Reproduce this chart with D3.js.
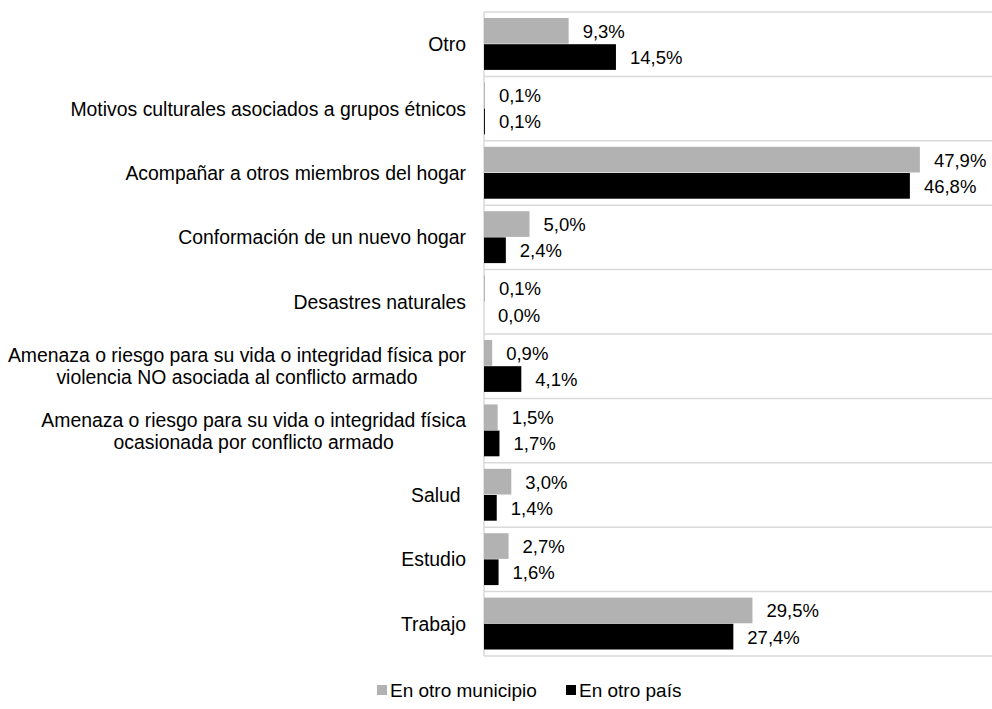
<!DOCTYPE html>
<html>
<head>
<meta charset="utf-8">
<script src="https://cdn.jsdelivr.net/npm/d3@7"></script>
<style>
  body { margin: 0; background: #fff; }
  text { font-family: "Liberation Sans", Arial, sans-serif; fill: #000; }
</style>
</head>
<body>
<div id="chart-area"></div>
<script>
// categories, top to bottom (multi-line labels split with |)
var categories = [
  'Otro',
  'Motivos culturales asociados a grupos étnicos',
  'Acompañar a otros miembros del hogar',
  'Conformación de un nuevo hogar',
  'Desastres naturales',
  'Amenaza o riesgo para su vida o integridad física por|violencia NO asociada al conflicto armado',
  'Amenaza o riesgo para su vida o integridad física|ocasionada por conflicto armado',
  'Salud ',
  'Estudio',
  'Trabajo'
];
var series = ['En otro municipio', 'En otro país'];
var municipio = [9.3, 0.1, 47.9, 5.0, 0.1, 0.9, 1.5, 3.0, 2.7, 29.5];
var pais = [14.5, 0.1, 46.8, 2.4, 0.0, 4.1, 1.7, 1.4, 1.6, 27.4];
var colors = ['#b2b2b2', '#000000'];

var W = 992, H = 709;
var margin = {top: 12, left: 484, right: 0, bottom: 53};
var height = H - margin.top - margin.bottom;
var width = W - margin.left - margin.right;

var svg = d3.select('#chart-area')
  .append('svg')
    .attr('width', W)
    .attr('height', H);

var g = svg.append('g')
  .attr('transform', 'translate(' + margin.left + ',' + margin.top + ')');

var x = d3.scaleLinear()
  .domain([0, 50])
  .range([0, 455]);

var y = d3.scaleBand()
  .domain(categories)
  .range([0, height]);

var y1 = d3.scaleBand()
  .domain(series)
  .range([6, y.bandwidth() - 6]);

var fmt = function(v) { return d3.format('.1f')(v).replace('.', ',') + '%'; };

// grid lines between categories
var lines = d3.range(categories.length + 1).map(function(i) { return i * y.bandwidth(); });
g.selectAll('line.grid')
  .data(lines)
  .enter().append('line')
    .attr('class', 'grid')
    .attr('x1', 0)
    .attr('x2', width)
    .attr('y1', function(d) { return d; })
    .attr('y2', function(d) { return d; })
    .attr('stroke', '#d9d9d9')
    .attr('stroke-width', 1.5);

// left axis line
g.append('line')
  .attr('x1', 0).attr('x2', 0)
  .attr('y1', 0).attr('y2', height)
  .attr('stroke', '#d9d9d9')
  .attr('stroke-width', 1.5);

// bars
var rows = categories.map(function(c, i) {
  return {cat: c, values: [
    {key: series[0], v: municipio[i], color: colors[0]},
    {key: series[1], v: pais[i], color: colors[1]}
  ]};
});

var groups = g.selectAll('g.cat')
  .data(rows)
  .enter().append('g')
    .attr('class', 'cat')
    .attr('transform', function(d) { return 'translate(0,' + y(d.cat) + ')'; });

groups.selectAll('rect')
  .data(function(d) { return d.values; })
  .enter().append('rect')
    .attr('x', 0)
    .attr('y', function(d) { return y1(d.key); })
    .attr('height', y1.bandwidth() - 0.5)
    .attr('width', function(d) { return x(d.v); })
    .attr('fill', function(d) { return d.color; });

groups.selectAll('text.val')
  .data(function(d) { return d.values; })
  .enter().append('text')
    .attr('class', 'val')
    .attr('x', function(d) { return x(d.v) + 14; })
    .attr('y', function(d) { return y1(d.key) + y1.bandwidth() / 2; })
    .attr('dy', '0.36em')
    .attr('font-size', '18.5px')
    .text(function(d) { return fmt(d.v); });

// category labels (right aligned block, lines centred)
var labelRight = -18;
groups.each(function(d) {
  var parts = d.cat.split('|');
  var lab = d3.select(this).append('text')
    .attr('font-size', '19.4px')
    .style('white-space', 'pre');
  var lineH = 22;
  var y0 = y.bandwidth() / 2 - (parts.length - 1) * lineH / 2;
  var spans = parts.map(function(p, i) {
    return lab.append('tspan')
      .attr('y', y0 + i * lineH)
      .attr('dy', '0.36em')
      .text(p);
  });
  var maxW = d3.max(spans, function(s) { return s.node().getComputedTextLength(); });
  if (parts.length > 1) {
    spans.forEach(function(s) {
      s.attr('x', labelRight - maxW / 2).attr('text-anchor', 'middle');
    });
  } else {
    spans[0].attr('x', labelRight).attr('text-anchor', 'end');
  }
});

// legend
var legend = svg.append('g')
  .attr('transform', 'translate(377,690)');
var legX = [0, 189];
series.forEach(function(s, i) {
  var row = legend.append('g').attr('transform', 'translate(' + legX[i] + ',0)');
  row.append('rect')
    .attr('x', 0)
    .attr('y', -5)
    .attr('width', 10)
    .attr('height', 10)
    .attr('fill', colors[i]);
  row.append('text')
    .attr('x', 13)
    .attr('y', 0)
    .attr('dy', '0.36em')
    .attr('font-size', '19px')
    .text(s);
});
</script>
</body>
</html>
